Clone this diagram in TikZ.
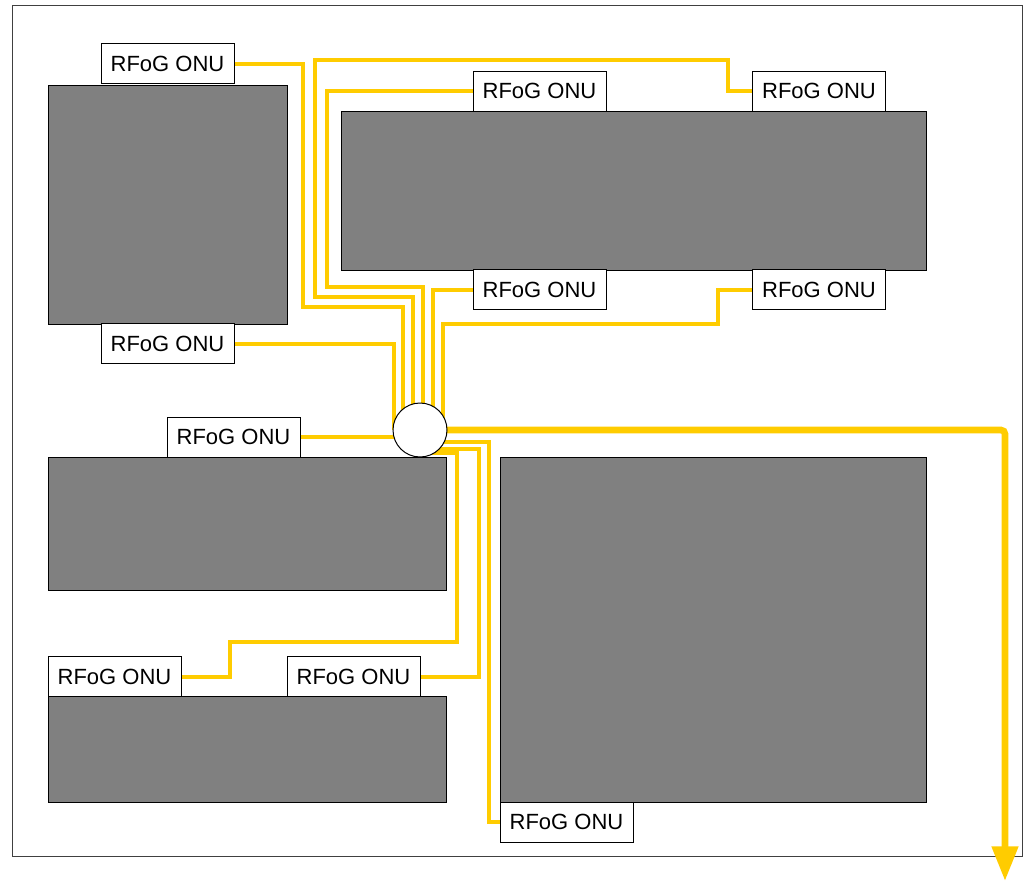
\documentclass[tikz,border=0pt]{standalone}
\usepackage{fontspec}
\setmainfont{Liberation Sans}
\usetikzlibrary{arrows.meta}
\definecolor{fib}{HTML}{FFCC00}
\definecolor{bldg}{HTML}{808080}
\begin{document}
\begin{tikzpicture}[x=0.75pt,y=-0.75pt,
 onu/.style={draw=black, fill=white, line width=0.75pt, minimum width=99.75pt, minimum height=30pt, inner sep=0pt, font=\fontsize{16.5}{18}\selectfont},
 bldgbox/.style={draw=black, fill=bldg, line width=0.75pt},
 fiber/.style={draw=fib, line width=3pt},
 trunk/.style={draw=fib, line width=5pt, rounded corners=3pt, -{Triangle[width=19pt,length=26pt]}}]
\useasboundingbox (0,0) rectangle (1026,882);
\draw[draw=black!75, line width=0.75pt] (12,5) rectangle (1022,856);
% buildings
\path[bldgbox] (48,85) rectangle (287,324);
\path[bldgbox] (341,111) rectangle (926,270);
\path[bldgbox] (48,457) rectangle (446,590);
\path[bldgbox] (48,696) rectangle (446,802);
\path[bldgbox] (500,457) rectangle (926,802);
% ONUs
\node[onu] (a) at (167.5,63.5) {RFoG ONU};
\node[onu] (b) at (539.5,91) {RFoG ONU};
\node[onu] (c) at (819,91) {RFoG ONU};
\node[onu] (d) at (539.5,289.5) {RFoG ONU};
\node[onu] (e) at (819,289.5) {RFoG ONU};
\node[onu] (f) at (167.5,343.5) {RFoG ONU};
\node[onu] (g) at (233.5,437) {RFoG ONU};
\node[onu] (h) at (114.5,676.5) {RFoG ONU};
\node[onu] (i) at (353.5,676.5) {RFoG ONU};
\node[onu] (j) at (566.5,822) {RFoG ONU};
\coordinate (hc) at (420,430);
% fibers
\draw[fiber] (a.east) -- (303,63.5) -- (303,307) -- (403,307) -- (403,430);
\draw[fiber] (c.west) -- (728,91) -- (728,60) -- (315,60) -- (315,297) -- (413,297) -- (413,430);
\draw[fiber] (b.west) -- (327,91) -- (327,287) -- (423,287) -- (423,430);
\draw[fiber] (d.west) -- (433,289.5) -- (433,430);
\draw[fiber] (e.west) -- (718,289.5) -- (718,324) -- (443,324) -- (443,430);
\draw[fiber] (f.east) -- (394,343.5) -- (394,430);
\draw[fiber] (g.east) -- (420,437);
\draw[fiber] (hc) ++(0,23) -- (457,453) -- (457,642) -- (230,642) -- (230,676.5) -- (h.east);
\draw[fiber] (hc) ++(0,19) -- (479,449) -- (479,676.5) -- (i.east);
\draw[fiber] (hc) ++(0,12) -- (489,442) -- (489,822) -- (j.west);
\draw[trunk] (hc) -- (1005,430) -- (1005,881);
\node[circle, draw=black, fill=white, line width=0.75pt, minimum size=40.5pt, inner sep=0pt] (hub) at (hc) {};
\end{tikzpicture}
\end{document}
